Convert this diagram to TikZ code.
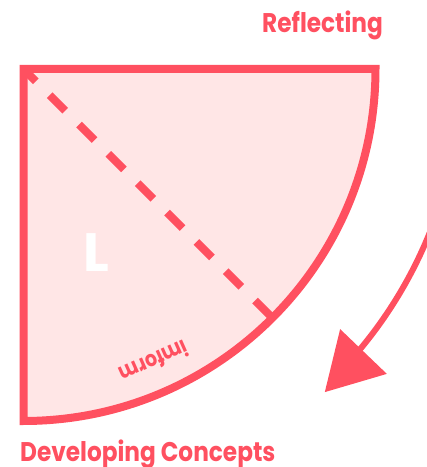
\documentclass[tikz,border=0pt]{standalone}
\usepackage{fontspec}
\setmainfont{Poppins}
\newfontfamily\titlefont{Poppins}[FakeStretch=0.86]
\usetikzlibrary{calc}
\definecolor{lred}{RGB}{255,80,96}
\definecolor{lpink}{RGB}{255,230,230}
\begin{document}
\begin{tikzpicture}[x=1pt,y=1pt,
  outline/.style={draw=lred,line width=8pt,fill=lpink,line join=miter},
  dashline/.style={draw=lred,line width=8pt,dash pattern=on 22pt off 19.5pt,dash phase=4.5pt},
  cyclearrow/.style={draw=lred,line width=6pt},
  title/.style={text=lred,font=\titlefont\bfseries\fontsize{27}{30}\selectfont,inner sep=0pt},
  lbl/.style={text=lred,font=\titlefont\bfseries\fontsize{22}{24}\selectfont,inner sep=0pt}]
\useasboundingbox (0,0) rectangle (427,467);
\clip (0,0) rectangle (427,467);
\coordinate (C) at (23.5,398);
\coordinate (TR) at (375.5,398);
\coordinate (D) at ($(C)+(-45:352)$);
\draw[outline] (C) -- (TR) arc[start angle=0,end angle=-90,radius=352] -- cycle;
\draw[dashline] (C) -- (D);
\draw[cyclearrow] ($(C)+(-16:438)$) arc[start angle=-16,end angle=-39.9,radius=438] coordinate (AB);
\coordinate (AT) at ($(C)+(-47:441.8)$);
\coordinate (A1) at ($(C)+(-39.4:409.8)$);
\coordinate (A2) at ($(C)+(-40:474.3)$);
\fill[lred] (AT) -- (A1) -- (A2) -- cycle;
\node[title,anchor=base west] (refl) at (262,434) {Reflecting};
\node[title,anchor=base west] (dev) at (20,5.5) {Developing Concepts};
\node[inner sep=0pt,anchor=base west,text=white,font=\fontsize{54}{60}\selectfont\bfseries] (L) at (83,195) {L};
\node[lbl,rotate=204] (inf) at ($(C)+(-66:321)$) {imform};
\end{tikzpicture}
\end{document}
